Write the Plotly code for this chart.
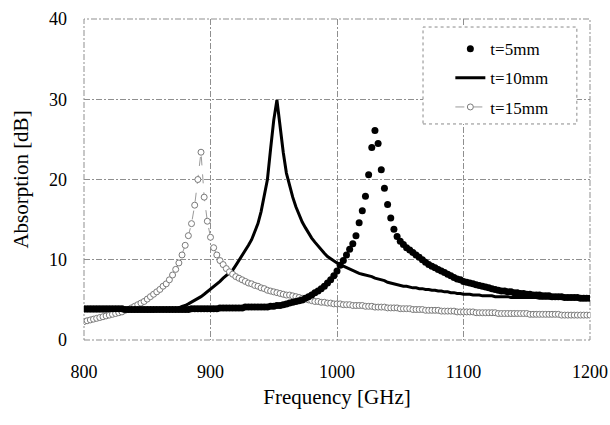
import plotly.graph_objects as go

FREQ_GHZ = [
    800, 802.5, 805, 807.5, 810, 812.5, 815, 817.5, 820, 822.5,
    825, 827.5, 830, 832.5, 835, 837.5, 840, 842.5, 845, 847.5,
    850, 852.5, 855, 857.5, 860, 862.5, 865, 867.5, 870, 872.5,
    875, 877.5, 880, 882.5, 885, 887.5, 890, 892.5, 895, 897.5,
    900, 902.5, 905, 907.5, 910, 912.5, 915, 917.5, 920, 922.5,
    925, 927.5, 930, 932.5, 935, 937.5, 940, 942.5, 945, 947.5,
    950, 952.5, 955, 957.5, 960, 962.5, 965, 967.5, 970, 972.5,
    975, 977.5, 980, 982.5, 985, 987.5, 990, 992.5, 995, 997.5,
    1000, 1002.5, 1005, 1007.5, 1010, 1012.5, 1015, 1017.5, 1020, 1022.5,
    1025, 1027.5, 1030, 1032.5, 1035, 1037.5, 1040, 1042.5, 1045, 1047.5,
    1050, 1052.5, 1055, 1057.5, 1060, 1062.5, 1065, 1067.5, 1070, 1072.5,
    1075, 1077.5, 1080, 1082.5, 1085, 1087.5, 1090, 1092.5, 1095, 1097.5,
    1100, 1102.5, 1105, 1107.5, 1110, 1112.5, 1115, 1117.5, 1120, 1122.5,
    1125, 1127.5, 1130, 1132.5, 1135, 1137.5, 1140, 1142.5, 1145, 1147.5,
    1150, 1152.5, 1155, 1157.5, 1160, 1162.5, 1165, 1167.5, 1170, 1172.5,
    1175, 1177.5, 1180, 1182.5, 1185, 1187.5, 1190, 1192.5, 1195, 1197.5,
    1200,
]

ABS_T5 = [
    3.9, 3.9, 3.9, 3.9, 3.9, 3.9, 3.9, 3.9, 3.9, 3.9,
    3.9, 3.9, 3.9, 3.8, 3.8, 3.8, 3.8, 3.8, 3.8, 3.8,
    3.8, 3.8, 3.8, 3.8, 3.8, 3.8, 3.8, 3.8, 3.8, 3.8,
    3.8, 3.8, 3.8, 3.8, 3.9, 3.9, 3.9, 3.9, 3.9, 3.9,
    3.9, 3.9, 3.9, 4.0, 4.0, 4.0, 4.0, 4.0, 4.0, 4.0,
    4.0, 4.1, 4.1, 4.1, 4.1, 4.1, 4.1, 4.1, 4.1, 4.2,
    4.2, 4.3, 4.3, 4.4, 4.5, 4.6, 4.7, 4.8, 4.9, 5.0,
    5.2, 5.4, 5.6, 5.9, 6.1, 6.4, 6.7, 7.1, 7.5, 8.0,
    8.6, 9.3, 9.9, 10.6, 11.3, 12.0, 13.0, 14.6, 16.1, 17.9,
    20.6, 24.0, 26.1, 24.5, 21.2, 18.9, 16.9, 15.2, 13.8, 12.9,
    12.3, 11.9, 11.5, 11.2, 10.9, 10.6, 10.3, 10.0, 9.7, 9.4,
    9.2, 9.0, 8.8, 8.6, 8.4, 8.2, 8.0, 7.8, 7.6, 7.5,
    7.3, 7.2, 7.1, 7.0, 6.9, 6.8, 6.7, 6.6, 6.5, 6.4,
    6.3, 6.2, 6.1, 6.1, 6.0, 6.0, 5.9, 5.9, 5.8, 5.8,
    5.7, 5.7, 5.6, 5.6, 5.6, 5.5, 5.5, 5.5, 5.4, 5.4,
    5.4, 5.4, 5.3, 5.3, 5.3, 5.3, 5.3, 5.2, 5.2, 5.2,
    5.2,
]

ABS_T10 = [
    3.6, 3.6, 3.6, 3.6, 3.6, 3.6, 3.6, 3.6, 3.6, 3.6,
    3.6, 3.6, 3.6, 3.6, 3.6, 3.6, 3.6, 3.6, 3.6, 3.6,
    3.6, 3.6, 3.6, 3.7, 3.7, 3.7, 3.7, 3.8, 3.8, 3.9,
    4.0, 4.2, 4.3, 4.5, 4.7, 4.9, 5.2, 5.4, 5.7, 6.0,
    6.3, 6.6, 7.0, 7.3, 7.7, 8.0, 8.3, 8.7, 9.3, 9.9,
    10.5, 11.1, 11.8, 12.5, 13.4, 14.5, 16.0, 17.8, 20.0, 23.8,
    27.4, 29.9, 26.4, 23.4, 20.8, 19.2, 17.8, 16.6, 15.6, 14.7,
    14.0, 13.3, 12.7, 12.2, 11.7, 11.2, 10.8, 10.4, 10.1, 9.8,
    9.6, 9.4, 9.2, 9.0, 8.8, 8.6, 8.5, 8.3, 8.2, 8.1,
    8.0, 7.9, 7.7, 7.6, 7.5, 7.4, 7.2, 7.1, 7.0, 6.9,
    6.8, 6.7, 6.7, 6.6, 6.5, 6.5, 6.4, 6.4, 6.3, 6.3,
    6.2, 6.2, 6.1, 6.1, 6.0, 6.0, 5.9, 5.9, 5.8, 5.8,
    5.7, 5.7, 5.7, 5.6, 5.6, 5.6, 5.5, 5.5, 5.5, 5.5,
    5.4, 5.4, 5.4, 5.4, 5.4, 5.3, 5.3, 5.3, 5.3, 5.3,
    5.3, 5.3, 5.3, 5.3, 5.2, 5.2, 5.2, 5.2, 5.2, 5.2,
    5.2, 5.2, 5.2, 5.2, 5.2, 5.2, 5.2, 5.2, 5.2, 5.2,
    5.2,
]

ABS_T15 = [
    2.3, 2.4, 2.5, 2.6, 2.7, 2.8, 2.9, 3.0, 3.1, 3.2,
    3.3, 3.4, 3.5, 3.7, 3.8, 4.0, 4.2, 4.4, 4.6, 4.8,
    5.1, 5.4, 5.7, 6.0, 6.3, 6.7, 7.0, 7.5, 8.1, 8.8,
    9.6, 10.6, 11.8, 13.0, 14.5, 16.8, 20.0, 23.4, 17.8, 14.8,
    12.8, 11.5, 10.6, 9.9, 9.4, 8.9, 8.5, 8.2, 7.9, 7.7,
    7.5, 7.3, 7.1, 7.0, 6.8, 6.7, 6.5, 6.4, 6.2, 6.1,
    6.0, 5.9, 5.8, 5.7, 5.6, 5.6, 5.5, 5.4, 5.3, 5.2,
    5.1, 5.0, 4.9, 4.8, 4.8, 4.7, 4.7, 4.6, 4.6, 4.5,
    4.5, 4.5, 4.4, 4.4, 4.4, 4.3, 4.3, 4.3, 4.3, 4.2,
    4.2, 4.2, 4.1, 4.1, 4.1, 4.1, 4.0, 4.0, 4.0, 4.0,
    3.9, 3.9, 3.9, 3.9, 3.8, 3.8, 3.8, 3.8, 3.7, 3.7,
    3.7, 3.7, 3.7, 3.6, 3.6, 3.6, 3.6, 3.6, 3.5, 3.5,
    3.5, 3.5, 3.5, 3.5, 3.4, 3.4, 3.4, 3.4, 3.4, 3.4,
    3.4, 3.3, 3.3, 3.3, 3.3, 3.3, 3.3, 3.3, 3.3, 3.3,
    3.3, 3.2, 3.2, 3.2, 3.2, 3.2, 3.2, 3.2, 3.2, 3.2,
    3.2, 3.1, 3.1, 3.1, 3.1, 3.1, 3.1, 3.1, 3.1, 3.1,
    3.1,
]

X_TICKS = [800, 900, 1000, 1100, 1200]
Y_TICKS = [0, 10, 20, 30, 40]
SERIES_NAMES = ["t=5mm", "t=10mm", "t=15mm"]

FONT = '"Liberation Serif", "Times New Roman", Times, serif'
GRID_DASH = "6px,2px,2px,2px"
GRID_COLOR = "#8f8f8f"

fig = go.Figure()

fig.add_trace(go.Scatter(
    x=FREQ_GHZ, y=ABS_T10, name=SERIES_NAMES[1], mode="lines",
    line=dict(color="black", width=3), legendrank=2, legendgroup="b",
))
fig.add_trace(go.Scatter(
    x=FREQ_GHZ, y=ABS_T15, name=SERIES_NAMES[2], mode="lines+markers",
    line=dict(color="#9a9a9a", width=1, dash="dash"),
    marker=dict(symbol="circle", size=6, color="white",
                line=dict(color="#7a7a7a", width=1)),
    legendrank=3, legendgroup="c",
))
fig.add_trace(go.Scatter(
    x=FREQ_GHZ, y=ABS_T5, name=SERIES_NAMES[0], mode="markers",
    marker=dict(symbol="circle", size=7, color="black"),
    legendrank=1, legendgroup="a",
))

# dotted frame around the plotting area (edge grid lines)
fig.add_shape(type="rect", xref="paper", yref="paper",
              x0=0, x1=1, y0=0, y1=1,
              line=dict(color=GRID_COLOR, width=1, dash=GRID_DASH),
              layer="below")

# legend frame (dashed, white background)
fig.add_shape(type="rect", xref="paper", yref="paper",
              x0=0.67, x1=0.974, y0=0.673, y1=0.975,
              line=dict(color="#8a8a8a", width=1, dash="dot"),
              fillcolor="white", layer="above")

axis_common = dict(
    showgrid=True, gridcolor=GRID_COLOR, gridwidth=1, griddash=GRID_DASH,
    zeroline=False, showline=False, ticks="",
    tickfont=dict(family=FONT, size=18, color="black"),
)

fig.update_xaxes(range=[800, 1200], tickvals=X_TICKS, ticklabelstandoff=19,
                 title=dict(text="Frequency [GHz]", font=dict(family=FONT, size=21, color="black"),
                            standoff=8),
                 **axis_common)
fig.update_yaxes(range=[0, 40], tickvals=Y_TICKS, ticklabelstandoff=16,
                 title=dict(text="Absorption [dB]", font=dict(family=FONT, size=21, color="black"),
                            standoff=14),
                 **axis_common)

fig.update_layout(
    width=610, height=425,
    margin=dict(l=84, r=20, t=19, b=85, autoexpand=False),
    paper_bgcolor="white", plot_bgcolor="white",
    font=dict(family=FONT, color="black"),
    showlegend=True,
    legend=dict(x=0.724, y=0.962, xanchor="left", yanchor="top",
                bgcolor="rgba(0,0,0,0)", borderwidth=0,
                font=dict(family=FONT, size=17, color="black"),
                tracegroupgap=4, itemwidth=30),
)

fig.write_html(
    "out.html",
    config={"displayModeBar": False},
    post_script="document.body.style.margin='0';document.body.style.overflow='hidden';",
)
